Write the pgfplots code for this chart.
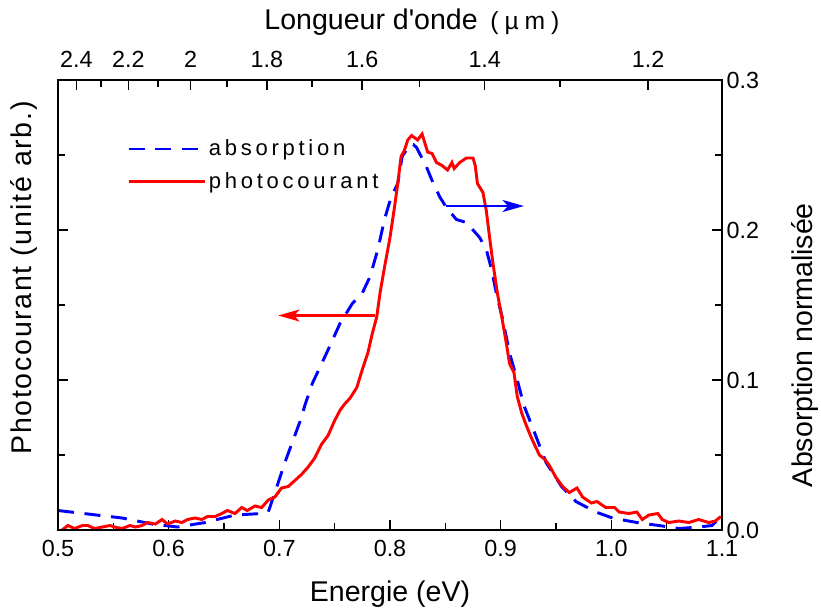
\documentclass[border=0pt]{standalone}
\usepackage{fontspec}
\setmainfont{Liberation Sans}
\usepackage{pgfplots}
\pgfplotsset{compat=1.18}
\usetikzlibrary{arrows.meta}

\begin{document}
\begin{tikzpicture}
\pgfplotsset{
  myaxis/.style={
    scale only axis, width=498pt, height=337.5pt,
    xmin=0.5, xmax=1.1, ymin=0, ymax=0.3,
    tick align=inside,
    major tick length=7.5pt, minor tick length=5pt,
    axis line style={line width=1.1pt},
    every tick/.style={line width=1.1pt, black},
    tick label style={font=\fontsize{17.5}{20}\selectfont},
    label style={font=\fontsize{21.4}{25}\selectfont},
    /pgf/number format/assume math mode=true,
  }
}
\begin{axis}[myaxis,
  xtick pos=bottom, ytick pos=left,
  xtick={0.5,0.6,0.7,0.8,0.9,1.0,1.1},
  xticklabels={0.5,0.6,0.7,0.8,0.9,1.0,1.1},
  xticklabel style={yshift=-4pt},
  minor x tick num=1,
  ytick={0,0.1,0.2,0.3}, yticklabels={},
  minor y tick num=1,
  xlabel={Energie (eV)},
  ylabel={\addfontfeature{LetterSpace=6}Photocourant (unité arb.)},
  xlabel style={at={(axis description cs:0.5,-0.142)}, anchor=center},
  ylabel style={at={(axis description cs:-0.051,0.56)}, anchor=center},
  legend cell align=left,
  legend style={at={(axis description cs:0.098,0.879)}, anchor=north west,
    draw=none, fill=none,
    font=\fontsize{16.5}{20}\selectfont\addfontfeature{LetterSpace=17},
    row sep=7pt},
  legend image code/.code={\draw[#1] (0pt,0pt) -- (38pt,0pt);
    \path (0pt,0pt) -- (57pt,0pt);},
]
\addplot[blue, line width=2.2pt, dash pattern=on 12pt off 8pt] coordinates {
(0.500,0.013) (0.558,0.008) (0.585,0.004) (0.608,0.002) (0.633,0.005)
(0.660,0.010) (0.684,0.011) (0.690,0.012) (0.696,0.025) (0.705,0.045)
(0.714,0.063) (0.720,0.075) (0.723,0.083) (0.730,0.098) (0.744,0.120)
(0.755,0.138) (0.766,0.151) (0.775,0.158) (0.782,0.169) (0.789,0.187)
(0.795,0.207) (0.801,0.222) (0.807,0.231) (0.811,0.249) (0.818,0.257)
(0.821,0.257) (0.824,0.255) (0.833,0.242) (0.838,0.233) (0.845,0.222)
(0.851,0.215) (0.860,0.207) (0.869,0.205) (0.881,0.195) (0.887,0.187)
(0.892,0.173) (0.896,0.158) (0.902,0.140) (0.908,0.118) (0.915,0.100)
(0.921,0.083) (0.929,0.068) (0.941,0.045) (0.955,0.029) (0.968,0.019)
(0.986,0.012) (1.001,0.008) (1.023,0.005) (1.043,0.003) (1.061,0.001)
(1.079,0.002) (1.091,0.003) (1.099,0.009)
};
\addlegendentry{absorption}
\addplot[red, line width=2.2pt] coordinates {
(0.5036,0.000) (0.509,0.003) (0.515,0.001) (0.522,0.003) (0.527,0.003)
(0.533,0.001) (0.540,0.002) (0.547,0.003) (0.551,0.002) (0.558,0.001)
(0.565,0.003) (0.570,0.002) (0.576,0.003) (0.581,0.005) (0.588,0.004)
(0.594,0.007) (0.599,0.004) (0.606,0.006) (0.612,0.005) (0.617,0.007)
(0.624,0.008) (0.630,0.007) (0.635,0.009) (0.642,0.009) (0.648,0.011)
(0.653,0.013) (0.660,0.011) (0.666,0.015) (0.671,0.013) (0.678,0.016)
(0.684,0.015) (0.690,0.020) (0.696,0.022) (0.702,0.028) (0.708,0.029)
(0.714,0.033) (0.720,0.037) (0.726,0.042) (0.732,0.048) (0.738,0.057)
(0.744,0.063) (0.750,0.073) (0.755,0.080) (0.759,0.084) (0.764,0.088)
(0.770,0.095) (0.775,0.107) (0.780,0.118) (0.784,0.131) (0.788,0.142)
(0.791,0.158) (0.795,0.175) (0.800,0.195) (0.804,0.215) (0.807,0.231)
(0.810,0.249) (0.813,0.253) (0.816,0.260) (0.8195,0.263) (0.825,0.260)
(0.829,0.264) (0.834,0.252) (0.838,0.251) (0.842,0.245) (0.847,0.243)
(0.852,0.240) (0.856,0.245) (0.858,0.241) (0.863,0.245) (0.869,0.248)
(0.875,0.248) (0.877,0.243) (0.879,0.231) (0.884,0.225) (0.887,0.213)
(0.890,0.195) (0.893,0.178) (0.897,0.158) (0.901,0.142) (0.905,0.125)
(0.908,0.111) (0.912,0.105) (0.915,0.089) (0.919,0.078) (0.923,0.070)
(0.928,0.061) (0.935,0.050) (0.940,0.047) (0.944,0.043) (0.950,0.035)
(0.956,0.029) (0.962,0.025) (0.969,0.028) (0.974,0.022) (0.982,0.018)
(0.987,0.019) (0.995,0.015) (1.003,0.015) (1.007,0.012) (1.016,0.011)
(1.023,0.012) (1.028,0.007) (1.034,0.010) (1.042,0.011) (1.046,0.007)
(1.052,0.005) (1.061,0.006) (1.070,0.005) (1.079,0.007) (1.088,0.005)
(1.094,0.006) (1.099,0.009)
};
\addlegendentry{photocourant}
\draw[red, line width=1.6pt, -{Stealth[length=16pt,width=9pt,inset=4pt]}]
  (axis cs:0.786,0.143) -- (axis cs:0.699,0.143);
\draw[blue, line width=1.6pt, -{Stealth[length=16pt,width=9pt,inset=4pt]}]
  (axis cs:0.851,0.216) -- (axis cs:0.921,0.216);
\coordinate (SW) at (rel axis cs:0,0);
\coordinate (NE) at (rel axis cs:1,1);
\end{axis}
\begin{axis}[myaxis,
  xtick pos=top, ytick pos=right,
  xticklabel pos=top, yticklabel pos=right,
  xtick={0.516601,0.563565,0.619921,0.688801,0.774901,0.885601,1.033202},
  xticklabels={2.4,2.2,2,1.8,1.6,1.4,1.2},
  xticklabel style={yshift=6pt},
  minor xtick={0.539062,0.590401,0.652548,0.729319,0.826561,0.953725},
  ytick={0,0.1,0.2,0.3},
  yticklabels={0.0,0.1,0.2,0.3},
  minor y tick num=1,
  xlabel={Longueur d\textquotesingle onde\, {\fontsize{18.5}{20}\selectfont\addfontfeature{LetterSpace=24}(µm)}},
  ylabel={Absorption normalisée},
  xlabel style={at={(axis description cs:0.533,1.129)}, anchor=center},
  ylabel style={at={(axis description cs:1.125,0.411)}, anchor=center},
]
\end{axis}
\pgfresetboundingbox
\path ([shift={(-43.5pt,-58.5pt)}]SW) rectangle ([shift={(74.25pt,60pt)}]NE);
\end{tikzpicture}
\end{document}
